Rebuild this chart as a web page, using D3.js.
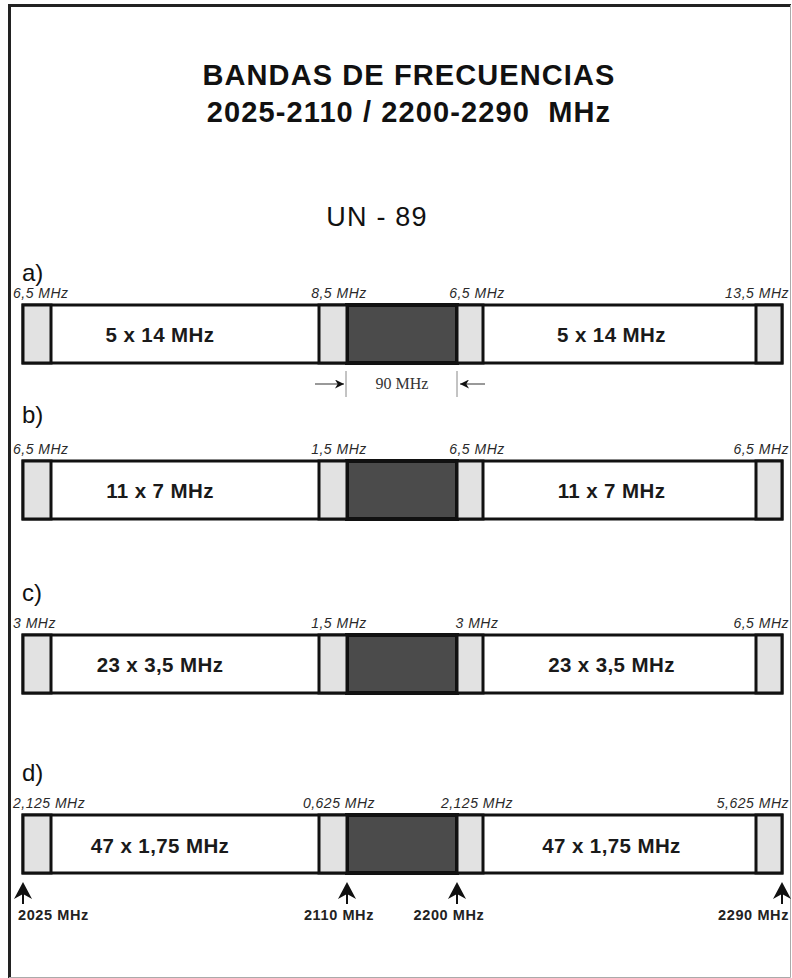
<!DOCTYPE html>
<html>
<head>
<meta charset="utf-8">
<script src="https://cdn.jsdelivr.net/npm/d3@7"></script>
<style>
  body { margin: 0; background: #fff; }
  text { font-family: "Liberation Sans", Arial, sans-serif; }
  text.serif { font-family: "Liberation Serif", "Times New Roman", serif; }
</style>
</head>
<body>
<svg id="chart" width="792" height="978"></svg>
<script>
// band edges (MHz) and the text of each row
var bandEdges = [2025, 2110, 2200, 2290];
var rowLetters = ["a)", "b)", "c)", "d)"];
var channelPlans = ["5 x 14 MHz", "11 x 7 MHz", "23 x 3,5 MHz", "47 x 1,75 MHz"];
var guardLabels = [
  ["6,5 MHz", "8,5 MHz", "6,5 MHz", "13,5 MHz"],
  ["6,5 MHz", "1,5 MHz", "6,5 MHz", "6,5 MHz"],
  ["3 MHz", "1,5 MHz", "3 MHz", "6,5 MHz"],
  ["2,125 MHz", "0,625 MHz", "2,125 MHz", "5,625 MHz"]
];
var duplexGap = 90;
var titleLines = ["BANDAS DE FRECUENCIAS", "2025-2110 / 2200-2290  MHz"];
var subTitle = "UN - 89";

// layout
var rowTops = [305, 461, 635, 815];
var letterBase = [281, 423, 601, 781];
var barH = 58, guardW = 28;

var svg = d3.select("#chart");

// schematic (not to scale) frequency axis
var x = d3.scaleLinear().domain(bandEdges).range([23, 347, 457, 782]);

// frame: dark top/left, light right/bottom
svg.append("path").attr("d", "M9.5,978 L9.5,5.5 L791,5.5")
  .attr("fill", "none").attr("stroke", "#222").attr("stroke-width", 3);
svg.append("path").attr("d", "M790.5,5 L790.5,977.5 L9,977.5")
  .attr("fill", "none").attr("stroke", "#aaa").attr("stroke-width", 1);

// titles
svg.selectAll(".title").data(titleLines).enter().append("text")
  .attr("class", "title")
  .attr("x", 409).attr("y", function(d, i) { return 85 + i * 37; })
  .attr("text-anchor", "middle")
  .attr("font-size", 29).attr("font-weight", "bold")
  .attr("letter-spacing", 1.1).attr("fill", "#111")
  .style("white-space", "pre")
  .text(function(d) { return d; });

svg.append("text").attr("x", 377).attr("y", 226)
  .attr("text-anchor", "middle").attr("font-size", 27)
  .attr("letter-spacing", 1.2).attr("fill", "#111")
  .text(subTitle);

var defs = svg.append("defs");
defs.append("marker").attr("id", "arr")
  .attr("viewBox", "0 0 10 10").attr("refX", 10).attr("refY", 5)
  .attr("markerWidth", 11).attr("markerHeight", 9)
  .attr("markerUnits", "userSpaceOnUse").attr("orient", "auto")
  .append("path").attr("d", "M0,0 L10,5 L0,10 L3,5 Z").attr("fill", "#111");

var rows = svg.selectAll(".row").data(channelPlans).enter().append("g")
  .attr("class", "row")
  .attr("transform", function(d, i) { return "translate(0," + rowTops[i] + ")"; });

rows.append("text").attr("x", 22).attr("y", function(d, i) { return letterBase[i] - rowTops[i]; })
  .attr("font-size", 24).attr("fill", "#111")
  .text(function(d, i) { return rowLetters[i]; });

// outer bar
rows.append("rect")
  .attr("x", x(bandEdges[0])).attr("y", 0)
  .attr("width", x(bandEdges[3]) - x(bandEdges[0])).attr("height", barH)
  .attr("fill", "#fff").attr("stroke", "#111").attr("stroke-width", 3);

// gap between the two bands
rows.append("rect")
  .attr("x", x(bandEdges[1])).attr("y", 0)
  .attr("width", x(bandEdges[2]) - x(bandEdges[1])).attr("height", barH)
  .attr("fill", "#4b4b4b").attr("stroke", "#111").attr("stroke-width", 4);

// guard bands: after lower edge / before upper edge of each band
var guardX = [x(bandEdges[0]), x(bandEdges[1]) - guardW, x(bandEdges[2]), x(bandEdges[3]) - guardW + 2];
rows.selectAll(".guard").data(guardX).enter().append("rect")
  .attr("class", "guard")
  .attr("x", function(d) { return d; }).attr("y", 0)
  .attr("width", function(d, i) { return i >= 2 ? guardW - 2 : guardW; }).attr("height", barH)
  .attr("fill", "#e2e2e2").attr("stroke", "#111").attr("stroke-width", 3);

// guard labels
rows.each(function(plan, r) {
  var g = d3.select(this);
  g.selectAll(".glab").data(guardLabels[r]).enter().append("text")
    .attr("class", "glab")
    .attr("x", function(d, i) {
      if (i == 0) return 13;
      if (i == 3) return 789;
      return guardX[i] + guardW / 2 + 6;
    })
    .attr("y", -7)
    .attr("text-anchor", function(d, i) { return i == 0 ? "start" : i == 3 ? "end" : "middle"; })
    .attr("font-size", 14).attr("font-style", "italic")
    .attr("letter-spacing", 0.5).attr("fill", "#2a2a2a")
    .text(function(d) { return d; });

  // channel arrangement in each band
  var cx = [(x(bandEdges[0]) + x(bandEdges[1])) / 2 - 25, (x(bandEdges[2]) + x(bandEdges[3])) / 2 - 8];
  g.selectAll(".plan").data(cx).enter().append("text")
    .attr("class", "plan")
    .attr("x", function(d) { return d; })
    .attr("y", barH / 2 + (r == 3 ? 9 : 8))
    .attr("text-anchor", "middle").attr("font-size", 20.5).attr("font-weight", "bold")
    .attr("letter-spacing", 0.4).attr("fill", "#1a1a1a")
    .text(plan);
});

// 90 MHz duplex gap annotation under row a
var ann = svg.append("g").attr("transform", "translate(0," + (rowTops[0] + barH) + ")");
[x(bandEdges[1]) - 1, x(bandEdges[2])].forEach(function(v) {
  ann.append("line").attr("x1", v).attr("x2", v).attr("y1", 8).attr("y2", 34)
    .attr("stroke", "#888").attr("stroke-width", 1);
});
ann.append("line").attr("x1", x(bandEdges[1]) - 32).attr("x2", x(bandEdges[1]) - 3)
  .attr("y1", 21).attr("y2", 21).attr("stroke", "#555").attr("stroke-width", 1.2)
  .attr("marker-end", "url(#arr)");
ann.append("line").attr("x1", x(bandEdges[2]) + 28).attr("x2", x(bandEdges[2]) + 3)
  .attr("y1", 21).attr("y2", 21).attr("stroke", "#555").attr("stroke-width", 1.2)
  .attr("marker-end", "url(#arr)");
ann.append("text").attr("class", "serif")
  .attr("x", (x(bandEdges[1]) + x(bandEdges[2])) / 2).attr("y", 26)
  .attr("text-anchor", "middle")
  .attr("font-size", 16).attr("fill", "#333")
  .text(duplexGap + " MHz");

// band edge arrows under row d
var bottom = rowTops[3] + barH;
var edges = svg.selectAll(".edge").data(bandEdges).enter().append("g")
  .attr("class", "edge")
  .attr("transform", function(d) { return "translate(" + x(d) + "," + (bottom + 9) + ")"; });
edges.append("line").attr("x1", 0).attr("x2", 0).attr("y1", 8).attr("y2", 22)
  .attr("stroke", "#111").attr("stroke-width", 2);
edges.append("path").attr("d", "M0,0 L9,17 L0,12 L-9,17 Z").attr("fill", "#111");
edges.append("text")
  .attr("x", function(d, i) { return i == 0 ? -5 : i == 3 ? 7 : -8; })
  .attr("y", 38)
  .attr("text-anchor", function(d, i) { return i == 0 ? "start" : i == 3 ? "end" : "middle"; })
  .attr("font-size", 14.5).attr("font-weight", "bold").attr("letter-spacing", 0.6)
  .attr("fill", "#222")
  .text(function(d) { return d + " MHz"; });
</script>
</body>
</html>
